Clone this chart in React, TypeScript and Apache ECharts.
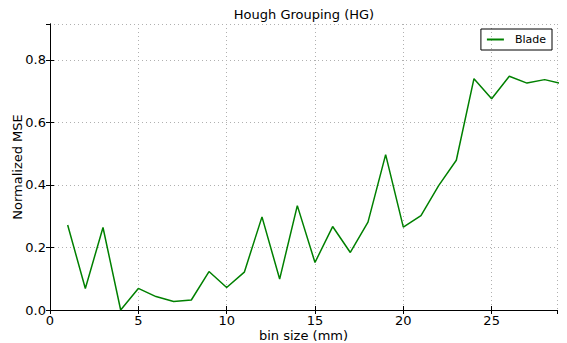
import React, { useEffect, useRef } from "react";
import * as echarts from "echarts";

const binSizes = [1, 2, 3, 4, 5, 6, 7, 8, 9, 10, 11, 12, 13, 14, 15, 16, 17, 18, 19, 20, 21, 22, 23, 24, 25, 26, 27, 28, 29];
const bladeMSE = [0.272, 0.069, 0.264, 0.0, 0.069, 0.043, 0.027, 0.032, 0.123, 0.072, 0.121, 0.298, 0.099, 0.334, 0.152, 0.267, 0.184, 0.281, 0.497, 0.265, 0.302, 0.398, 0.479, 0.740, 0.676, 0.748, 0.726, 0.737, 0.724];
const seriesName = "Blade";
const titleText = "Hough Grouping (HG)";
const xLabel = "bin size (mm)";
const yLabel = "Normalized MSE";

const FONT = "DejaVu Sans";

export default function App() {
  const ref = useRef<HTMLDivElement>(null);
  useEffect(() => {
    if (!ref.current) return;
    const chart = echarts.init(ref.current, null, { renderer: "svg" });
    const axisLine = { show: true, lineStyle: { color: "#000", width: 1 } };
    const grid = { show: true, lineStyle: { color: "#b0b0b0", type: [1, 3] as any, width: 1 } };
    const tick = { show: true, inside: true, length: 4, lineStyle: { color: "#000" } };
    chart.setOption({
      animation: false,
      backgroundColor: "#fff",
      title: {
        text: titleText,
        left: 304,
        textAlign: "center",
        top: 8,
        padding: 0,
        textStyle: { fontFamily: FONT, fontSize: 13, fontWeight: "normal", color: "#000" },
      },
      legend: {
        right: 15,
        top: 29,
        data: [seriesName],
        icon: "rect",
        itemWidth: 17,
        itemHeight: 2,
        padding: [5, 6, 5, 6],
        borderColor: "#000",
        borderWidth: 1,
        borderRadius: 0,
        textStyle: { fontFamily: FONT, fontSize: 11, color: "#000", padding: [0, 0, 0, 6] },
      },
      grid: { left: 50, right: 10, top: 24, bottom: 33, containLabel: false, outerBoundsMode: "none" },
      xAxis: [
        {
          type: "value",
          min: 0,
          max: 28.7,
          interval: 5,
          name: xLabel,
          nameLocation: "middle",
          nameGap: 18,
          nameMoveOverlap: false,
          nameTextStyle: { fontFamily: FONT, fontSize: 13, lineHeight: 14, color: "#000" },
          axisLine,
          axisTick: tick,
          axisLabel: { fontFamily: FONT, fontSize: 13, lineHeight: 14, color: "#000", margin: 3, showMaxLabel: false },
          splitLine: grid,
        },
        {
          type: "value",
          position: "top",
          min: 0,
          max: 28.7,
          interval: 5,
          axisLine,
          axisTick: tick,
          axisLabel: { show: false },
          splitLine: { show: false },
        },
      ],
      yAxis: [
        {
          type: "value",
          min: 0,
          max: 0.915,
          interval: 0.2,
          name: yLabel,
          nameLocation: "middle",
          nameGap: 26,
          nameMoveOverlap: false,
          nameTextStyle: { fontFamily: FONT, fontSize: 13, color: "#000" },
          axisLine,
          axisTick: tick,
          axisLabel: { fontFamily: FONT, fontSize: 13, color: "#000", margin: 4, showMaxLabel: false, formatter: (v: number) => v.toFixed(1) },
          splitLine: grid,
        },
        {
          type: "value",
          position: "right",
          min: 0,
          max: 0.915,
          interval: 0.2,
          axisLine,
          axisTick: tick,
          axisLabel: { show: false },
          splitLine: { show: false },
        },
      ],
      series: [
        {
          name: seriesName,
          type: "line",
          data: binSizes.map((x, i) => [x, bladeMSE[i]]),
          showSymbol: false,
          symbol: "none",
          clip: true,
          lineStyle: { color: "#008000", width: 1.5 },
          itemStyle: { color: "#008000" },
        },
      ],
    });
    return () => chart.dispose();
  }, []);
  return <div ref={ref} style={{ width: 567, height: 343, position: "absolute", left: 0, top: 0 }} />;
}
